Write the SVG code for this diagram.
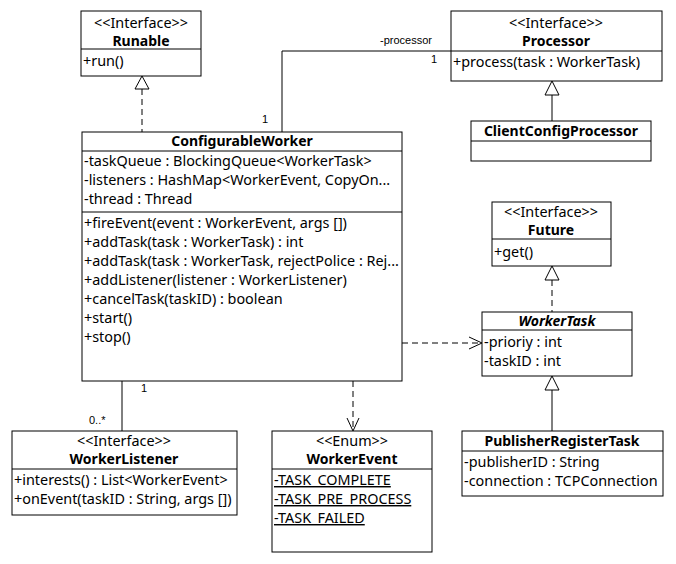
<svg xmlns="http://www.w3.org/2000/svg" width="676" height="564" viewBox="0 0 676 564">
<style>
.box{fill:#fff;stroke:#000;stroke-width:1}
.ln{stroke:#000;stroke-width:1;fill:none}
.dash{stroke:#000;stroke-width:1;fill:none;stroke-dasharray:6,4}
.tri{fill:#fff;stroke:#000;stroke-width:1}
text{font-family:"Noto Sans","Open Sans",sans-serif;font-size:14.4px;fill:#000}
.c{text-anchor:middle}
.b{font-weight:bold;font-size:14px}
.i{font-style:italic}
.u{text-decoration:underline}
.s{font-family:"Liberation Sans",Arial,sans-serif;font-size:11px}
</style>
<rect x="0" y="0" width="676" height="564" fill="#fff"/>
<g id="connectors">
  <line class="dash" x1="142" y1="89" x2="142" y2="132"/>
  <polygon class="tri" points="142,76 135,89 149,89"/>
  <polyline class="ln" points="282,132 282,51 451,51"/>
  <text class="s" x="380" y="44">-processor</text>
  <text class="s" x="431" y="63">1</text>
  <text class="s" x="262" y="123">1</text>
  <line class="ln" x1="552" y1="95" x2="552" y2="121"/>
  <polygon class="tri" points="552,81 545,95 559,95"/>
  <line class="dash" x1="552" y1="280" x2="552" y2="312"/>
  <polygon class="tri" points="552,266 545,280 559,280"/>
  <line class="ln" x1="552" y1="390" x2="552" y2="431"/>
  <polygon class="tri" points="552,376 545,390 559,390"/>
  <line class="dash" x1="402" y1="343" x2="481" y2="343"/>
  <polyline class="ln" points="469,337 482,343 469,349"/>
  <line class="dash" x1="353" y1="381" x2="353" y2="430"/>
  <polyline class="ln" points="347,418 353,431 359,418"/>
  <line class="ln" x1="122" y1="381" x2="122" y2="431"/>
  <text class="s" x="141" y="392">1</text>
  <text class="s" x="89" y="424">0..*</text>
</g>
<g id="Runable">
  <rect class="box" x="81" y="11" width="120" height="65"/>
  <line class="ln" x1="81" y1="49" x2="201" y2="49"/>
  <text class="c" x="141" y="28">&lt;&lt;Interface&gt;&gt;</text>
  <text class="c b" x="141" y="46">Runable</text>
  <text x="83" y="66">+run()</text>
</g>
<g id="Processor">
  <rect class="box" x="451" y="11" width="211" height="70"/>
  <line class="ln" x1="451" y1="51" x2="662" y2="51"/>
  <text class="c" x="556" y="28">&lt;&lt;Interface&gt;&gt;</text>
  <text class="c b" x="556" y="46">Processor</text>
  <text x="453" y="67">+process(task : WorkerTask)</text>
</g>
<g id="ClientConfigProcessor">
  <rect class="box" x="471" y="121" width="180" height="40"/>
  <line class="ln" x1="471" y1="141" x2="651" y2="141"/>
  <text class="c b" x="561" y="136">ClientConfigProcessor</text>
</g>
<g id="ConfigurableWorker">
  <rect class="box" x="82" y="132" width="320" height="249"/>
  <line class="ln" x1="82" y1="151" x2="402" y2="151"/>
  <line class="ln" x1="82" y1="212" x2="402" y2="212"/>
  <text class="c b" x="242" y="146">ConfigurableWorker</text>
  <text x="84" y="166">-taskQueue : BlockingQueue&lt;WorkerTask&gt;</text>
  <text x="84" y="185">-listeners : HashMap&lt;WorkerEvent, CopyOn...</text>
  <text x="84" y="204">-thread : Thread</text>
  <text x="84" y="228">+fireEvent(event : WorkerEvent, args [])</text>
  <text x="84" y="247">+addTask(task : WorkerTask) : int</text>
  <text x="84" y="266">+addTask(task : WorkerTask, rejectPolice : Rej...</text>
  <text x="84" y="285">+addListener(listener : WorkerListener)</text>
  <text x="84" y="304">+cancelTask(taskID) : boolean</text>
  <text x="84" y="323">+start()</text>
  <text x="84" y="342">+stop()</text>
</g>
<g id="Future">
  <rect class="box" x="492" y="202" width="119" height="64"/>
  <line class="ln" x1="492" y1="239" x2="611" y2="239"/>
  <text class="c" x="551" y="217">&lt;&lt;Interface&gt;&gt;</text>
  <text class="c b" x="551" y="235">Future</text>
  <text x="494" y="257">+get()</text>
</g>
<g id="WorkerTask">
  <rect class="box" x="482" y="312" width="150" height="64"/>
  <line class="ln" x1="482" y1="330" x2="632" y2="330"/>
  <text class="c b i" x="557" y="326">WorkerTask</text>
  <text x="484" y="347">-prioriy : int</text>
  <text x="484" y="366">-taskID : int</text>
</g>
<g id="WorkerListener">
  <rect class="box" x="12" y="431" width="225" height="84"/>
  <line class="ln" x1="12" y1="469" x2="237" y2="469"/>
  <text class="c" x="124" y="446">&lt;&lt;Interface&gt;&gt;</text>
  <text class="c b" x="124" y="464">WorkerListener</text>
  <text x="14" y="485">+interests() : List&lt;WorkerEvent&gt;</text>
  <text x="14" y="504">+onEvent(taskID : String, args [])</text>
</g>
<g id="WorkerEvent">
  <rect class="box" x="272" y="431" width="160" height="121"/>
  <line class="ln" x1="272" y1="469" x2="432" y2="469"/>
  <text class="c" x="352" y="446">&lt;&lt;Enum&gt;&gt;</text>
  <text class="c b" x="352" y="464">WorkerEvent</text>
  <text class="u" x="274" y="485">-TASK_COMPLETE</text>
  <text class="u" x="274" y="504">-TASK_PRE_PROCESS</text>
  <text class="u" x="274" y="523">-TASK_FAILED</text>
</g>
<g id="PublisherRegisterTask">
  <rect class="box" x="462" y="431" width="201" height="65"/>
  <line class="ln" x1="462" y1="451" x2="663" y2="451"/>
  <text class="c b" x="562" y="446">PublisherRegisterTask</text>
  <text x="464" y="467">-publisherID : String</text>
  <text x="464" y="486">-connection : TCPConnection</text>
</g>
</svg>
